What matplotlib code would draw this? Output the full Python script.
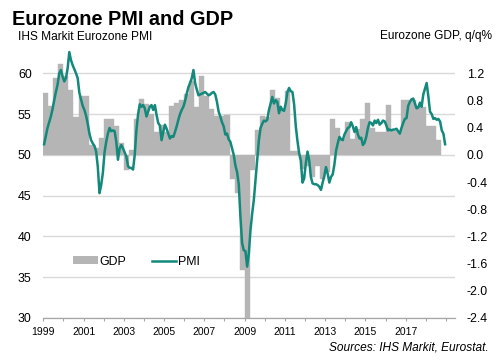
import numpy as np
import matplotlib
matplotlib.use("Agg")
import matplotlib.pyplot as plt
from matplotlib.patches import Patch
from matplotlib.lines import Line2D

plt.rcParams['font.family'] = ['Liberation Sans', 'DejaVu Sans']

# IHS Markit Eurozone PMI, monthly, Jan 1999 - Dec 2018
pmi = [
    51.3, 52.3, 53.3, 54.0, 54.7, 55.6, 56.7, 57.7, 58.6, 60.0, 60.4, 59.6,  # 1999
    59.0, 59.4, 60.6, 62.6, 61.6, 61.0, 60.5, 60.0, 59.4, 57.6, 56.8, 56.0,  # 2000
    55.5, 54.8, 53.8, 52.6, 51.8, 51.4, 51.1, 50.4, 48.5, 45.3, 46.3, 47.8,  # 2001
    50.3, 51.6, 52.6, 53.3, 52.9, 53.0, 52.9, 51.6, 49.4, 50.8, 51.2, 50.8,  # 2002
    50.3, 49.8, 48.6, 48.4, 48.4, 48.2, 50.0, 53.0, 55.0, 56.2, 55.9, 56.1,  # 2003
    55.7, 54.7, 55.3, 55.9, 56.1, 55.5, 56.1, 54.9, 53.9, 53.6, 51.8, 52.8,  # 2004
    53.7, 53.2, 52.6, 52.0, 52.3, 52.2, 52.8, 53.5, 54.3, 55.0, 55.5, 55.9,  # 2005
    56.6, 57.5, 58.3, 58.8, 59.4, 60.4, 58.8, 58.0, 57.3, 57.4, 57.5, 57.6,  # 2006
    57.7, 57.5, 57.3, 57.4, 57.6, 57.7, 57.4, 56.5, 55.3, 54.7, 54.0, 53.5,  # 2007
    52.5, 52.6, 51.9, 51.6, 50.8, 50.0, 48.7, 47.9, 46.4, 42.4, 39.2, 38.3,  # 2008
    38.2, 36.3, 37.9, 40.8, 42.8, 44.5, 46.9, 49.4, 51.8, 53.3, 53.8, 54.2,  # 2009
    54.1, 54.3, 55.5, 56.3, 57.1, 56.3, 56.7, 56.5, 55.1, 55.9, 55.5, 55.4,  # 2010
    56.3, 57.7, 58.2, 57.8, 57.7, 56.2, 53.5, 51.7, 50.2, 49.3, 46.6, 47.1,  # 2011
    49.0, 50.4, 49.3, 47.3, 46.5, 46.4, 46.4, 46.3, 46.1, 45.7, 46.6, 47.4,  # 2012
    48.5, 47.7, 46.6, 47.3, 47.6, 48.8, 50.5, 51.4, 52.2, 51.9, 51.8, 52.5,  # 2013
    52.9, 53.3, 53.4, 54.0, 53.5, 52.8, 53.4, 52.5, 52.0, 52.1, 51.2, 51.5,  # 2014
    52.2, 53.3, 54.0, 53.9, 53.6, 54.2, 53.9, 54.3, 53.7, 53.9, 54.2, 54.1,  # 2015
    53.6, 53.0, 53.1, 53.0, 53.1, 53.1, 53.2, 52.9, 52.6, 53.3, 53.9, 54.4,  # 2016
    54.5, 56.0, 56.5, 56.8, 56.9, 56.3, 55.7, 55.8, 56.4, 55.9, 57.4, 58.1,  # 2017
    58.8, 57.2, 55.3, 55.0, 54.4, 54.5, 54.3, 54.4, 54.1, 53.0, 52.6, 51.3,  # 2018
]

# Eurozone GDP q/q %, Q1 1999 - Q3 2018
gdp = [
    0.91, 0.72, 1.13, 1.33,
    1.16, 0.95, 0.56, 0.87,
    0.87, 0.15, 0.10, 0.25,
    0.53, 0.53, 0.43, 0.18,
    -0.23, 0.07, 0.53, 0.82,
    0.75, 0.60, 0.33, 0.44,
    0.34, 0.72, 0.77, 0.80,
    0.89, 1.09, 0.70, 1.16,
    0.87, 0.68, 0.57, 0.57,
    0.58, -0.35, -0.56, -1.70,
    -3.00, -0.22, 0.37, 0.57,
    0.55, 0.95, 0.84, 0.66,
    0.94, 0.06, 0.06, -0.21,
    -0.16, -0.33, -0.16, -0.35,
    -0.25, 0.53, 0.39, 0.24,
    0.48, 0.24, 0.38, 0.53,
    0.77, 0.40, 0.33, 0.33,
    0.73, 0.35, 0.35, 0.80,
    0.80, 0.80, 0.70, 0.70,
    0.43, 0.43, 0.22,
]

start_year = 1999
years = list(range(1999, 2020))
year_labels = [str(y) if (y - 1999) % 2 == 0 and y <= 2017 else '' for y in years]
pmi_ticks = [30, 35, 40, 45, 50, 55, 60]
gdp_ticks = [-2.4, -2.0, -1.6, -1.2, -0.8, -0.4, 0.0, 0.4, 0.8, 1.2]

pmi_x = start_year + np.arange(len(pmi)) / 12 + 1 / 24
gdp_x = start_year + np.arange(len(gdp)) / 4

teal = '#12897b'
grey_bar = '#b5b5b5'
grid_col = '#d9d9d9'

fig = plt.figure(figsize=(5.01, 3.63), dpi=100)
rect = [43.3 / 501, 1 - 318 / 363, (455 - 43.3) / 501, (318 - 48.8) / 363]
ax = fig.add_axes(rect)
ax2 = ax.twinx()   # GDP bars, right axis
ax3 = ax.twinx()   # PMI line on top

ax.set_xlim(1999, 2019.45)
ax.set_ylim(30, 63)
ax2.set_ylim(-2.4, 1.56)
ax3.set_ylim(30, 63)

# grid + left axis
ax.set_yticks(pmi_ticks)
ax.set_yticklabels([str(t) for t in pmi_ticks], fontsize=8.9)
ax.grid(axis='y', color=grid_col, linewidth=1.0)
ax.set_xticks(years)
ax.set_xticklabels(year_labels, fontsize=7.5)
ax.tick_params(axis='x', direction='out', length=2.5, width=0.8, color='#a6a6a6', pad=4)
ax.tick_params(axis='y', length=0, pad=8.4)
for s in ['top', 'right', 'left']:
    ax.spines[s].set_visible(False)
ax.spines['bottom'].set_color('#a6a6a6')
ax.spines['bottom'].set_linewidth(0.9)

# GDP bars
ax2.bar(gdp_x, gdp, width=0.25, align='edge', color=grey_bar, edgecolor=grey_bar, linewidth=0.3)
ax2.set_yticks(gdp_ticks)
ax2.set_yticklabels([f'{t:.1f}' for t in gdp_ticks], fontsize=8.9)
ax2.tick_params(axis='y', length=0, pad=8.6)
for s in ax2.spines.values():
    s.set_visible(False)

# PMI line
ax3.plot(pmi_x, pmi, color=teal, linewidth=1.8, clip_on=False)
ax3.set_yticks([])
for s in ax3.spines.values():
    s.set_visible(False)

handles = [Patch(facecolor=grey_bar, edgecolor='none', label='GDP'),
           Line2D([], [], color=teal, linewidth=1.8, label='PMI')]
ax3.legend(handles=handles, loc='center left', bbox_to_anchor=(0.072, 0.209), ncol=2,
           frameon=False, fontsize=8.9, handlelength=2.0, handleheight=0.6,
           handletextpad=0.1, columnspacing=2.1, borderpad=0, borderaxespad=0)

fig.text(12 / 501, 1 - 25 / 363, 'Eurozone PMI and GDP', fontsize=14.3, fontweight='bold', va='baseline')
fig.text(18 / 501, 1 - 39.5 / 363, 'IHS Markit Eurozone PMI', fontsize=8.6, va='baseline')
fig.text(492 / 501, 1 - 39.5 / 363, 'Eurozone GDP, q/q%', fontsize=8.6, va='baseline', ha='right')
fig.text(489 / 501, 1 - 350 / 363, 'Sources: IHS Markit, Eurostat.', fontsize=8.6,
         style='italic', va='baseline', ha='right')

fig.savefig('out.png', dpi=100)
